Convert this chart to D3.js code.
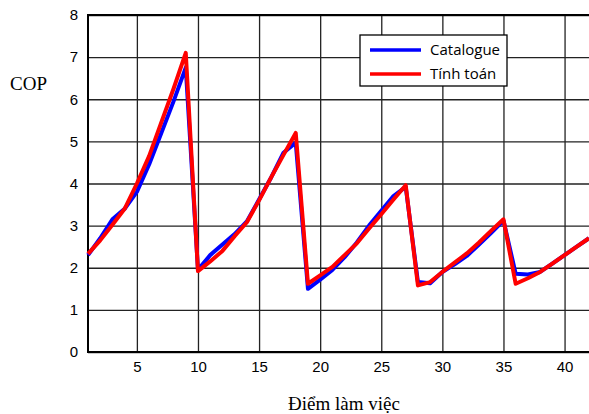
<!DOCTYPE html>
<html lang="vi">
<head>
  <meta charset="UTF-8">
  <title>COP</title>
  <script src="https://cdn.jsdelivr.net/npm/d3@7"></script>
  <style>
    body { margin: 0; background: #fff; }
    .tick text { font-family: "Liberation Sans", Arial, sans-serif; font-size: 15px; fill: #000; }
    .grid line { stroke: #222; stroke-width: 1.3; }
    .grid path { display: none; }
  </style>
</head>
<body>
<div id="chart"></div>
<script>
  // Working points 1..42
  const points = d3.range(1, 43);
  const catalogue = [2.3, 2.7, 3.15, 3.4, 3.8, 4.45, 5.2, 5.95, 6.75,
    1.95, 2.3, 2.55, 2.8, 3.1, 3.62, 4.15, 4.73, 4.97,
    1.5, 1.72, 1.95, 2.25, 2.6, 3.0, 3.35, 3.7, 3.92,
    1.66, 1.63, 1.9, 2.08, 2.28, 2.55, 2.83, 3.12,
    1.86, 1.84, 1.9, 2.1, 2.3, 2.5, 2.7];
  const tinhToan = [2.33, 2.65, 3.02, 3.4, 4.0, 4.65, 5.45, 6.25, 7.1,
    1.92, 2.15, 2.4, 2.75, 3.08, 3.6, 4.15, 4.68, 5.2,
    1.62, 1.82, 2.02, 2.3, 2.58, 2.93, 3.27, 3.62, 3.96,
    1.58, 1.66, 1.9, 2.12, 2.34, 2.6, 2.88, 3.15,
    1.62, 1.75, 1.9, 2.1, 2.3, 2.5, 2.7];
  const xTicks = [5, 10, 15, 20, 25, 30, 35, 40];
  const yTicks = [0, 1, 2, 3, 4, 5, 6, 7, 8];
  const seriesNames = ["Catalogue", "Tính toán"];
  const seriesColors = ["#0000ff", "#ff0000"];

  const width = 589, height = 414;
  const margin = { top: 15, right: 0, bottom: 62, left: 88 };

  const svg = d3.select("#chart").append("svg")
    .attr("width", width)
    .attr("height", height);

  const x = d3.scaleLinear().domain([1, 42]).range([margin.left, width - margin.right]);
  const y = d3.scaleLinear().domain([0, 8]).range([height - margin.bottom, margin.top]);

  // grid
  svg.append("g")
    .attr("class", "grid")
    .attr("transform", `translate(0,${y(0)})`)
    .call(d3.axisBottom(x).tickValues(xTicks).tickSize(-(y(0) - y(8))).tickFormat(""));
  svg.append("g")
    .attr("class", "grid")
    .attr("transform", `translate(${x(1)},0)`)
    .call(d3.axisLeft(y).tickValues(yTicks).tickSize(-(x(42) - x(1))).tickFormat(""));

  // axes labels
  const xAxis = svg.append("g")
    .attr("transform", `translate(0,${y(0)})`)
    .call(d3.axisBottom(x).tickValues(xTicks).tickSize(0).tickPadding(9));
  xAxis.select(".domain").remove();

  const yAxis = svg.append("g")
    .attr("transform", `translate(${x(1)},0)`)
    .call(d3.axisLeft(y).tickValues(yTicks).tickSize(0).tickPadding(10));
  yAxis.select(".domain").remove();

  // frame
  svg.append("path")
    .attr("d", `M${x(42)},${y(8)}H${x(1)}V${y(0)}H${x(42)}`)
    .attr("fill", "none")
    .attr("stroke", "#000")
    .attr("stroke-width", 2);

  // lines
  const line = d3.line().x((d, i) => x(points[i])).y(d => y(d));
  [catalogue, tinhToan].forEach((s, i) => {
    svg.append("path")
      .datum(s)
      .attr("d", line)
      .attr("fill", "none")
      .attr("stroke", seriesColors[i])
      .attr("stroke-width", 4)
      .attr("stroke-linejoin", "round");
  });

  // legend
  const legend = svg.append("g").attr("transform", "translate(360,35)");
  legend.append("rect")
    .attr("width", 147).attr("height", 51)
    .attr("fill", "#fff").attr("stroke", "#000").attr("stroke-width", 1.3);
  seriesNames.forEach((name, i) => {
    legend.append("line")
      .attr("x1", 10).attr("x2", 61)
      .attr("y1", 15 + i * 24).attr("y2", 15 + i * 24)
      .attr("stroke", seriesColors[i]).attr("stroke-width", 3.5);
    legend.append("text")
      .attr("x", 70).attr("y", 20 + i * 24)
      .attr("font-family", "'Open Sans', sans-serif")
      .attr("font-size", 15)
      .text(name);
  });

  // titles
  svg.append("text")
    .attr("x", 10).attr("y", 90)
    .attr("font-family", "'Liberation Serif', 'Times New Roman', serif")
    .attr("font-size", 19)
    .text("COP");
  svg.append("text")
    .attr("x", 344).attr("y", 410)
    .attr("text-anchor", "middle")
    .attr("font-family", "'Liberation Serif', 'Times New Roman', serif")
    .attr("font-size", 19)
    .text("Điểm làm việc");
</script>
</body>
</html>
